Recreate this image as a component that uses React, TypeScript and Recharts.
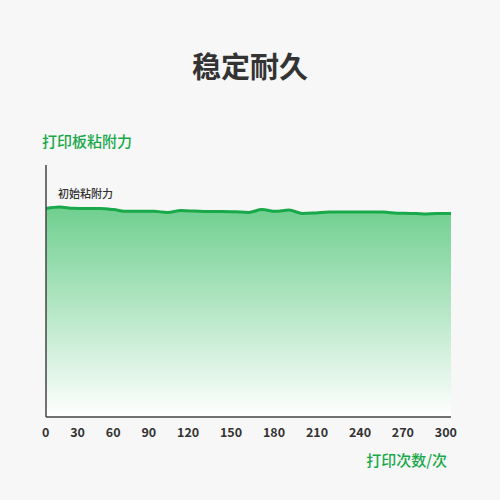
import { AreaChart, Area, XAxis, YAxis } from 'recharts';

const prints = [0, 10, 20, 30, 40, 50, 60, 70, 80, 90, 100, 110, 120, 130, 140, 150, 160, 170, 180, 190, 200, 210, 220, 230, 240, 250, 260, 270, 280, 290, 300];
const adhesion = [82.7, 83.3, 82.8, 82.7, 82.7, 82.3, 81.6, 81.6, 81.6, 81.2, 81.9, 81.7, 81.5, 81.5, 81.4, 81.2, 82.3, 81.6, 82.1, 80.8, 81.0, 81.3, 81.3, 81.3, 81.3, 81.3, 80.9, 80.8, 80.6, 80.8, 80.8];
const xTicks = [0, 30, 60, 90, 120, 150, 180, 210, 240, 270, 300];

const data = prints.map((p, i) => ({ prints: p, adhesion: adhesion[i] }));

const FONT = '"Noto Sans CJK SC", "Noto Sans", sans-serif';
const GREEN = '#19a84a';
const DARK = '#333333';

export default function App() {
  return (
    <div style={{ position: 'relative', width: 500, height: 500, background: '#f7f7f7', fontFamily: FONT, overflow: 'hidden' }}>
      <style>{'body{margin:0}'}</style>
      <div style={{ position: 'absolute', left: 0, width: 500, top: 45, textAlign: 'center', fontSize: 29, fontWeight: 700, color: DARK, lineHeight: '40px' }}>
        稳定耐久
      </div>
      <div style={{ position: 'absolute', left: 42, top: 130, fontSize: 15, fontWeight: 500, color: GREEN, lineHeight: '22px' }}>
        打印板粘附力
      </div>
      <div style={{ position: 'absolute', left: 58, top: 185, fontSize: 11, fontWeight: 500, color: DARK, lineHeight: '16px' }}>
        初始粘附力
      </div>

      <AreaChart
        width={500}
        height={500}
        data={data}
        margin={{ top: 165, right: 49, bottom: 82, left: 45 }}
        style={{ position: 'absolute', left: 0, top: 0 }}
      >
        <defs>
          <linearGradient id="fillGreen" x1="0" y1="0" x2="0" y2="1">
            <stop offset="0%" stopColor="#6fcf8f" />
            <stop offset="100%" stopColor="#ffffff" />
          </linearGradient>
        </defs>
        <Area
          type="monotone"
          dataKey="adhesion"
          stroke={GREEN}
          strokeWidth={3}
          fill="url(#fillGreen)"
          fillOpacity={1}
          isAnimationActive={false}
        />
        <XAxis
          dataKey="prints"
          type="number"
          domain={[0, 300]}
          ticks={xTicks}
          tick={false}
          tickLine={false}
          height={1}
          axisLine={{ stroke: '#444', strokeWidth: 1.5 }}
        />
        <YAxis
          domain={[0, 100]}
          tick={false}
          tickLine={false}
          width={1}
          axisLine={{ stroke: '#444', strokeWidth: 1.5 }}
        />
      </AreaChart>

      <div style={{ position: 'absolute', left: 42, width: 415, top: 423, display: 'flex', justifyContent: 'space-between', fontSize: 12.5, fontWeight: 700, color: DARK, lineHeight: '18px' }}>
        {xTicks.map((t) => (
          <span key={t}>{t}</span>
        ))}
      </div>
      <div style={{ position: 'absolute', right: 53, top: 449, fontSize: 15, fontWeight: 500, color: GREEN, lineHeight: '22px' }}>
        打印次数/次
      </div>
    </div>
  );
}
